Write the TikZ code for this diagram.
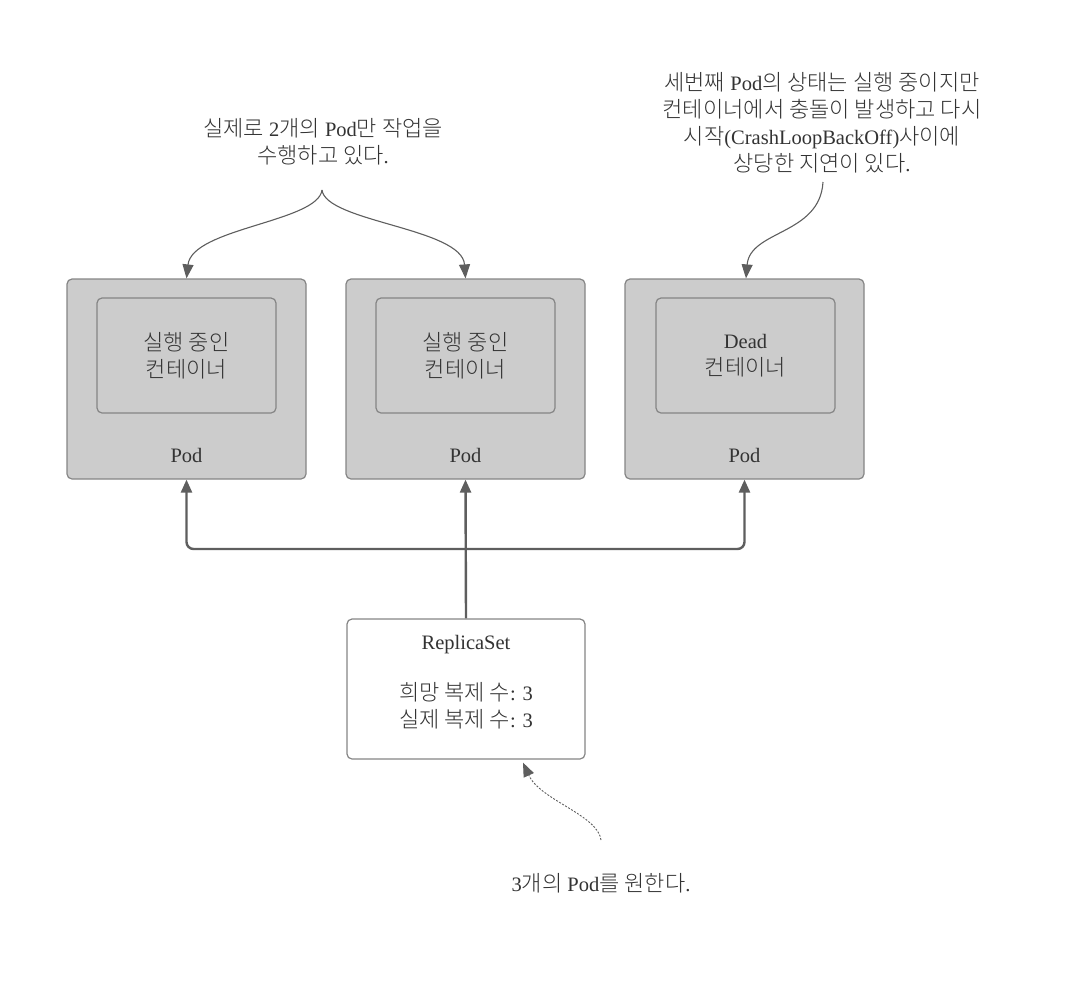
\documentclass[tikz,border=0pt]{standalone}
\usepackage{fontspec}
\setmainfont{Liberation Serif}
\newfontfamily\kr[Scale=1.075,UprightFont={* Light}]{Noto Sans CJK KR}
\usetikzlibrary{arrows.meta,calc}
\definecolor{podfill}{HTML}{CCCCCC}
\definecolor{boxline}{HTML}{858585}
\definecolor{connc}{HTML}{5E5E5E}
\definecolor{txt}{HTML}{333333}
\begin{document}
\begin{tikzpicture}[x=1pt,y=-1pt,
  font=\fontsize{20.5}{27}\selectfont, text=txt,
  podbox/.style={draw=boxline, fill=podfill, rounded corners=5pt, line width=1.2pt,
    minimum width=239pt, minimum height=200pt, inner sep=0pt},
  innerbox/.style={draw=boxline, fill=podfill, rounded corners=5pt, line width=1.2pt,
    minimum width=179pt, minimum height=115pt, inner sep=0pt, align=center},
  rsbox/.style={draw=boxline, fill=white, rounded corners=5pt, line width=1.2pt,
    minimum width=238pt, minimum height=140pt, inner sep=0pt},
  lbl/.style={align=center, inner sep=0pt},
  conn/.style={draw=connc, line width=2.4pt, -{Triangle[length=13pt,width=11pt]}},
  curvearrow/.style={draw=connc, line width=1.1pt, -{Triangle[length=14pt,width=11pt]}},
  dotarrow/.style={draw=connc, line width=0.9pt, dash pattern=on 2pt off 1.5pt,
    -{Triangle[length=14pt,width=11pt]}}
]
\useasboundingbox (0,0) rectangle (1066,994);

% pods
\node[podbox] (pod1) at (186.5,379) {};
\node[podbox] (pod2) at (465.5,379) {};
\node[podbox] (pod3) at (744.5,379) {};
\node[innerbox] (in1) at (186.5,355.5) {{\kr 실행 중인}\\{\kr 컨테이너}};
\node[innerbox] (in2) at (465.5,355.5) {{\kr 실행 중인}\\{\kr 컨테이너}};
\node[innerbox] (in3) at (745.5,355.5) {Dead\\{\kr 컨테이너}};
\node[lbl] (p1) at (186.5,455) {Pod};
\node[lbl] (p2) at (465.5,455) {Pod};
\node[lbl] (p3) at (744.5,455) {Pod};

% replicaset
\node[rsbox] (rs) at (466,689) {};
\node[lbl] (rstext) at (466,682) {ReplicaSet\\[24pt]{\kr 희망 복제 수}: 3\\{\kr 실제 복제 수}: 3};

% connectors
\coordinate (j) at (rs.north |- 0,549);
\draw[conn] (rs.north) -- (pod2.south);
\draw[conn, rounded corners=7pt] (j) -| (pod1.south);
\draw[conn, rounded corners=7pt] (j) -| (pod3.south);

% annotations
\node[lbl] (t1) at (323,141.5) {{\kr 실제로} 2{\kr 개의} Pod{\kr 만 작업을}\\{\kr 수행하고 있다}.};
\node[lbl] (t3) at (822,123) {{\kr 세번째} Pod{\kr 의 상태는 실행 중이지만}\\{\kr 컨테이너에서 충돌이 발생하고 다시}\\{\kr 시작}(CrashLoopBackOff){\kr 사이에}\\{\kr 상당한 지연이 있다}.};
\node[lbl] (t5) at (601,883) {3{\kr 개의} Pod{\kr 를 원한다}.};

\coordinate (c1) at (322,190);
\coordinate (c3) at (823,182);
\coordinate (c5) at (601,840);

\draw[curvearrow] (c1) .. controls (318,222) and (192,228) .. (pod1.north);
\draw[curvearrow] (c1) .. controls (326,222) and (462,228) .. (pod2.north);
\draw[curvearrow] (c3) .. controls (820,235) and (750,230) .. ([xshift=1.5pt]pod3.north);
\draw[dotarrow] (c5) .. controls (598,815) and (540,800) .. ([xshift=57pt,yshift=-3pt]rs.south);
\end{tikzpicture}
\end{document}
